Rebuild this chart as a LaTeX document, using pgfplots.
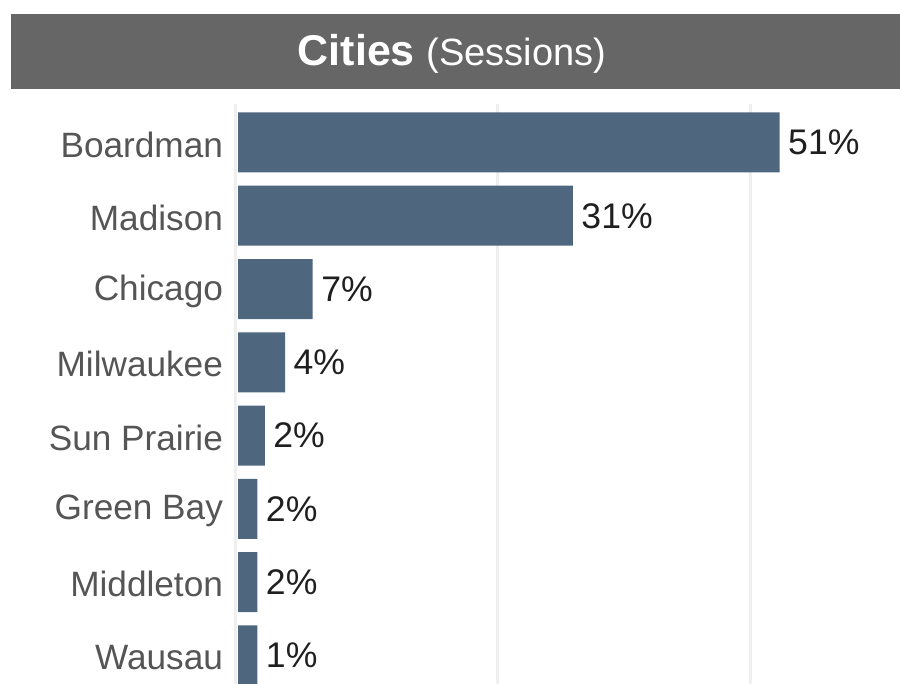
\documentclass[border=0pt]{standalone}
\usepackage{fontspec}
\setmainfont{Liberation Sans}
\usepackage{pgfplots}
\pgfplotsset{compat=1.18}
\usepackage{pgfplotstable}
\definecolor{barblue}{HTML}{4E677F}
\definecolor{titlegray}{HTML}{666666}
\definecolor{gridgray}{HTML}{EFEFEF}
\definecolor{labelgray}{HTML}{555555}
\pgfplotstableread{
idx value label
0 50.8 51
1 31.4 31
2 7.0 7
3 4.4 4
4 2.5 2
5 1.8 2
6 1.8 2
7 1.8 1
}\datatable
\begin{document}
\begin{tikzpicture}[x=1pt,y=1pt]
\useasboundingbox (0,0) rectangle (450,342);
\fill[titlegray] (5.5,335) rectangle (450,297.5);
\node[text=white, inner sep=0pt] at (226,315) {\fontsize{21.5}{26}\selectfont\bfseries Cities \fontsize{19}{22}\selectfont\mdseries (Sessions)};
\begin{axis}[
  at={(118pt,0pt)}, anchor=south west,
  scale only axis, width=332pt, height=290pt,
  xbar, bar width=30pt,
  xmin=-0.2, xmax=62.1,
  ymin=-0.525, ymax=7.39, y dir=reverse,
  ytick={0,...,7},
  yticklabels={Boardman,Madison,Chicago,Milwaukee,Sun Prairie,Green Bay,Middleton,Wausau},
  xtick={-0.2,24.3,48.1}, xticklabels={},
  xmajorgrids, grid style={gridgray, line width=1.5pt},
  axis line style={draw=none}, major tick length=0pt,
  yticklabel style={font=\fontsize{17.6}{20}\selectfont, text=labelgray, xshift=-3pt, yshift=-1pt},
  point meta=explicit symbolic,
  nodes near coords={\pgfplotspointmeta\%},
  nodes near coords style={font=\fontsize{17.8}{20}\selectfont, text=black!88, anchor=west, xshift=0.8pt},
]
\addplot[fill=barblue, draw=none] table[x=value, y=idx, meta=label] \datatable;
\end{axis}
\end{tikzpicture}
\end{document}
